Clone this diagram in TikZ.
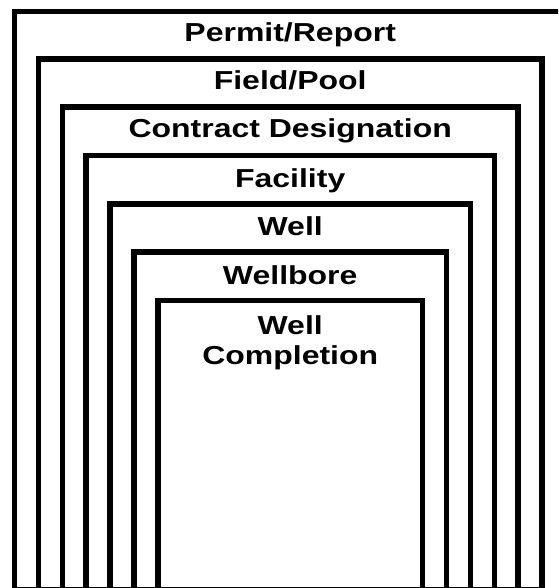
\documentclass[tikz,border=0pt]{standalone}
\usepackage{fontspec}
\usepackage{tikz}
\usetikzlibrary{positioning}
\newfontfamily\tierfont{Liberation Sans}[FakeStretch=1.23]
\tikzset{
  shell/.style={draw=black, line width=5.6pt, miter limit=10},
  tier/.style={anchor=base, inner sep=0pt, align=center,
               font=\tierfont\bfseries\fontsize{26}{30}\selectfont},
  baseline rule/.style={draw=black, line width=1pt}
}
\begin{document}
\begin{tikzpicture}[x=1pt, y=-1pt]
\useasboundingbox (0,0) rectangle (558,588);
\clip (0,0) rectangle (558,588);
% nested frames, open at the foot
\draw[shell] (14.5,600) -- (14.5,11.5) -- (566,11.5) -- (566,600);
\draw[shell] (38.4,600) -- (38.4,59.2) -- (542.1,59.2) -- (542.1,600);
\draw[shell] (62.3,600) -- (62.3,107.3) -- (518.2,107.3) -- (518.2,600);
\draw[shell] (86.2,600) -- (86.2,155.4) -- (494.3,155.4) -- (494.3,600);
\draw[shell] (110.1,600) -- (110.1,203.8) -- (470.4,203.8) -- (470.4,600);
\draw[shell] (134,600) -- (134,252.2) -- (446.5,252.2) -- (446.5,600);
\draw[shell] (157.9,600) -- (157.9,300.6) -- (422.6,300.6) -- (422.6,600);
\draw[baseline rule] (14,587.5) -- (545,587.5);

% level names
\node[tier] (permit) at (290.2,42) {Permit/Report};
\node[tier] (field) at (290.2,90) {Field/Pool};
\node[tier] (contract) at (290.2,138) {Contract Designation};
\node[tier] (facility) at (290.2,187) {Facility};
\node[tier] (well) at (290.2,235) {Well};
\node[tier] (wellbore) at (290.2,284) {Wellbore};
\node[tier] (completion) at (290.2,364) {Well\\Completion};
\end{tikzpicture}
\end{document}
